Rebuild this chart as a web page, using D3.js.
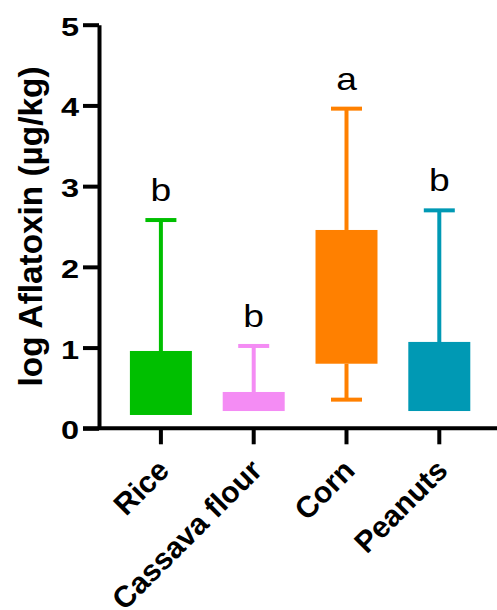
<!DOCTYPE html>
<html>
<head>
<meta charset="utf-8">
<script src="https://cdn.jsdelivr.net/npm/d3@7"></script>
<style>
  body { margin: 0; background: #fff; }
  svg { display: block; font-family: Arial, "Liberation Sans", sans-serif; }
</style>
</head>
<body>
<svg id="chart" width="497" height="610"></svg>
<script>
// data (log ug/kg)
const categories = ["Rice", "Cassava flour", "Corn", "Peanuts"];
const boxLow = [0.165, 0.214, 0.80, 0.214];
const boxHigh = [0.958, 0.45, 2.457, 1.07];
const whiskerLow = [null, null, 0.355, null];
const whiskerHigh = [2.58, 1.02, 3.96, 2.70];
const letters = ["b", "b", "a", "b"];
const colors = ["#00BF00", "#F48CF4", "#FF8000", "#0099B4"];
const yTicks = [0, 1, 2, 3, 4, 5];

const margin = {top: 24.7, left: 99, right: 0, bottom: 181.7};
const width = 497 - margin.left - margin.right;
const height = 610 - margin.top - margin.bottom;

const svg = d3.select("#chart");
const root = svg.append("g")
    .attr("transform", `translate(${margin.left}, ${margin.top})`);

const x = d3.scaleBand()
    .domain(categories)
    .range([15.5, 15.5 + 4 * 92.8])
    .paddingInner(0.332)
    .paddingOuter(0.166);

const y = d3.scaleLinear()
    .domain([0, 5])
    .range([height, 0]);

const capW = 31;

// boxes
root.selectAll("rect.box")
    .data(categories)
    .join("rect")
    .attr("class", "box")
    .attr("x", d => x(d))
    .attr("width", x.bandwidth())
    .attr("y", (d, i) => y(boxHigh[i]))
    .attr("height", (d, i) => y(boxLow[i]) - y(boxHigh[i]))
    .attr("fill", (d, i) => colors[i]);

// whiskers + significance letters
categories.forEach((c, i) => {
    const cx = x(c) + x.bandwidth() / 2;
    const g = root.append("g")
        .attr("stroke", colors[i])
        .attr("stroke-width", 4);
    g.append("line")
        .attr("x1", cx).attr("x2", cx)
        .attr("y1", y(boxHigh[i])).attr("y2", y(whiskerHigh[i]));
    g.append("line")
        .attr("x1", cx - capW / 2).attr("x2", cx + capW / 2)
        .attr("y1", y(whiskerHigh[i])).attr("y2", y(whiskerHigh[i]));
    if (whiskerLow[i] != null) {
        g.append("line")
            .attr("x1", cx).attr("x2", cx)
            .attr("y1", y(boxLow[i])).attr("y2", y(whiskerLow[i]));
        g.append("line")
            .attr("x1", cx - capW / 2).attr("x2", cx + capW / 2)
            .attr("y1", y(whiskerLow[i])).attr("y2", y(whiskerLow[i]));
    }
    root.append("text")
        .attr("transform", `translate(${cx}, ${y(whiskerHigh[i]) - 19}) scale(1.2, 1)`)
        .attr("text-anchor", "middle")
        .attr("font-size", 31)
        .attr("fill", "#000")
        .text(letters[i]);
});

// y axis
const yAxis = root.append("g")
    .call(d3.axisLeft(y).tickValues(yTicks).tickFormat(d3.format("d")).tickSize(16).tickSizeOuter(0));
yAxis.select(".domain").attr("stroke-width", 4).attr("stroke", "#000");
yAxis.selectAll(".tick line").attr("stroke-width", 4);
yAxis.selectAll(".tick text")
    .attr("x", null)
    .attr("dy", null)
    .attr("transform", "translate(-20, 10.5) scale(1.3, 1)")
    .attr("text-anchor", "end")
    .attr("font-size", 25)
    .attr("font-weight", "bold")
    .attr("font-family", "Arial, 'Liberation Sans', sans-serif")
    .attr("fill", "#000");

// x axis
const xAxis = root.append("g")
    .attr("transform", `translate(0, ${height})`)
    .call(d3.axisBottom(x).tickSize(16).tickSizeOuter(0).tickFormat(""));
xAxis.select(".domain")
    .attr("d", `M-16,0H${width}`)
    .attr("stroke-width", 4).attr("stroke", "#000");
xAxis.selectAll(".tick line").attr("stroke-width", 4);

xAxis.selectAll(".tick")
    .append("text")
    .attr("transform", "translate(10, 44) rotate(-45)")
    .attr("text-anchor", "end")
    .attr("font-size", 30)
    .attr("font-weight", "bold")
    .attr("font-family", "Arial, 'Liberation Sans', sans-serif")
    .attr("fill", "#000")
    .text(d => d);

// y label
root.append("text")
    .attr("transform", `translate(-57.3, ${height / 2}) rotate(-90)`)
    .attr("text-anchor", "middle")
    .attr("font-size", 34)
    .attr("font-weight", "bold")
    .attr("textLength", 320)
    .attr("lengthAdjust", "spacingAndGlyphs")
    .attr("fill", "#000")
    .text("log Aflatoxin (µg/kg)");
</script>
</body>
</html>
